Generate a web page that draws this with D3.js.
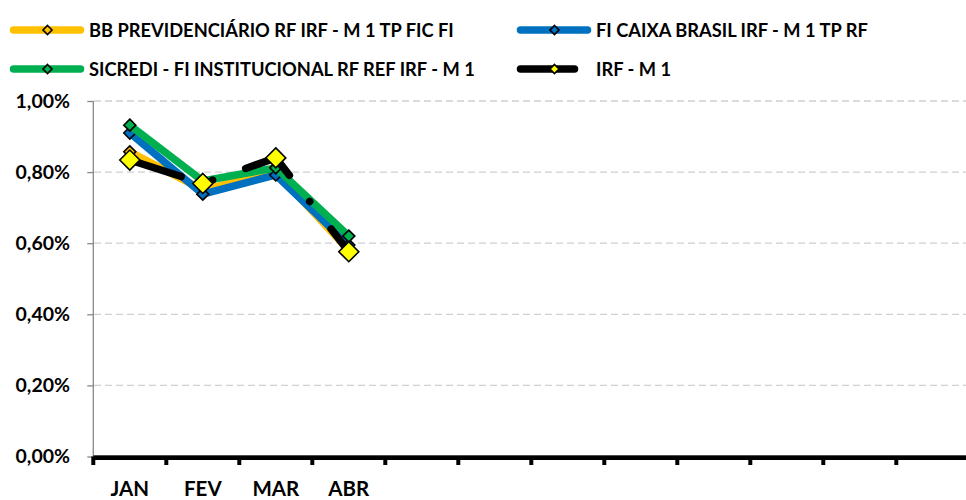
<!DOCTYPE html>
<html><head><meta charset="utf-8">
<script src="https://cdn.jsdelivr.net/npm/d3@7/dist/d3.min.js"></script>
<style>
html,body{margin:0;padding:0;background:#fff;}
svg{display:block;font-family:Lato,"Liberation Sans",sans-serif;font-weight:bold;}
</style></head>
<body><svg id="c" width="966" height="500"></svg>
<script>
// ---- data ----
const months = ["JAN","FEV","MAR","ABR","MAI","JUN","JUL","AGO","SET","OUT","NOV","DEZ"];
const monthLabels = ["JAN","FEV","MAR","ABR","","","","","","","",""];
const yTicks = [0, 0.002, 0.004, 0.006, 0.008, 0.010];
const seriesNames = [
  "BB PREVIDENCIÁRIO RF IRF - M 1 TP FIC FI",
  "FI CAIXA BRASIL IRF - M 1 TP RF",
  "SICREDI - FI INSTITUCIONAL RF REF IRF - M 1",
  "IRF - M 1"
];
const bbValues      = [0.00857, 0.00750, 0.00800, 0.00580];
const caixaValues   = [0.00910, 0.00738, 0.00792, 0.00595];
const sicrediValues = [0.00932, 0.00775, 0.00812, 0.00620];
const irfValues     = [0.00834, 0.00768, 0.00840, 0.00576];

// ---- styles ----
const styles = [
  {line:"#FFC000", fill:"#FFC000", dash:null, msize:12},
  {line:"#0070C0", fill:"#0070C0", dash:null, msize:12},
  {line:"#00B050", fill:"#00B050", dash:null, msize:12},
  {line:"#000000", fill:"#FFFF00", dash:"54,33,0.1,35", msize:20}
];
const allValues = [bbValues, caixaValues, sicrediValues, irfValues];

const svg = d3.select("#c");
const x = d3.scaleBand().domain(months).range([93.3, 969.3]);
const y = d3.scaleLinear().domain([0, 0.01]).range([456.5, 101]);

// gridlines
svg.append("g").selectAll("line").data(yTicks.filter(d=>d>0)).join("line")
  .attr("x1", 94).attr("x2", 966)
  .attr("y1", d=>y(d)).attr("y2", d=>y(d))
  .attr("stroke", "#D0D0D0").attr("stroke-width", 1.3).attr("stroke-dasharray", "7,4");

// y axis
const yAxis = svg.append("g").attr("transform", "translate(93.3,0)")
  .call(d3.axisLeft(y).tickValues(yTicks).tickSize(6).tickPadding(17.3)
    .tickFormat(d => d3.format(".2f")(d*100).replace(".", ",") + "%"));
yAxis.select(".domain").attr("stroke", "#888").attr("stroke-width", 1.3).attr("d", `M0,${y(0.01)}V${y(0)}`);
yAxis.selectAll(".tick line").attr("stroke", "#888").attr("stroke-width", 1.3);
yAxis.selectAll(".tick text").attr("font-size", 19.5).attr("font-family", "Lato").attr("font-weight", "bold").attr("fill", "#000");

// x axis
svg.append("line").attr("x1", 93.3).attr("x2", 966).attr("y1", 455.5).attr("y2", 455.5)
  .attr("stroke", "#999").attr("stroke-width", 1);
const xAxis = svg.append("g").attr("transform", `translate(0,${y(0)+1.2})`)
  .call(d3.axisBottom(x).tickValues(months).tickSize(0).tickPadding(24)
    .tickFormat((d,i)=>monthLabels[i]));
xAxis.select(".domain").attr("stroke", "#000").attr("stroke-width", 4.5).attr("d", `M93.3,0H966`);
xAxis.selectAll(".tick text").attr("font-size", 20.5).attr("font-family", "Lato").attr("font-weight", "bold").attr("fill", "#000");
// boundary tick marks
svg.append("g").selectAll("line").data(months).join("line")
  .attr("x1", d=>x(d)).attr("x2", d=>x(d))
  .attr("y1", y(0)).attr("y2", y(0)+8.5)
  .attr("stroke", "#000").attr("stroke-width", 4);

// series
const line = d3.line().x((d,i)=>x(months[i]) + x.bandwidth()/2).y(d=>y(d));
const diamond = s => `M0,${-s/2}L${s/2},0L0,${s/2}L${-s/2},0Z`;
allValues.forEach((vals, k) => {
  const st = styles[k];
  const p = svg.append("path").datum(vals).attr("d", line)
    .attr("fill", "none").attr("stroke", st.line).attr("stroke-width", 7.5)
    .attr("stroke-linejoin", "round").attr("stroke-linecap", "round");
  if (st.dash) p.attr("stroke-dasharray", st.dash);
  svg.append("g").selectAll("path").data(vals).join("path")
    .attr("transform", (d,i)=>`translate(${x(months[i]) + x.bandwidth()/2},${y(d)})`)
    .attr("d", diamond(st.msize))
    .attr("fill", st.fill).attr("stroke", "#000").attr("stroke-width", 1.6);
});

// legend
const legPos = [[13.5,30],[520.5,30],[13.5,69],[520.5,69]];
seriesNames.forEach((name, k) => {
  const st = styles[k];
  const [lx, ly] = legPos[k];
  const g = svg.append("g").attr("transform", `translate(${lx},${ly})`);
  const l = g.append("line").attr("x1", 0).attr("x2", 67).attr("y1", 0).attr("y2", 0)
    .attr("stroke", st.line).attr("stroke-width", 7.5).attr("stroke-linecap", "round");
  if (st.dash) l.attr("stroke-dasharray", st.dash);
  g.append("path").attr("transform", "translate(34,0)").attr("d", diamond(9))
    .attr("fill", k === 3 ? "#FFFF00" : st.fill).attr("stroke", "#000").attr("stroke-width", 1.6);
  g.append("text").attr("x", 75.5).attr("y", 0).attr("dy", "0.36em")
    .attr("font-size", 18.3).attr("fill", "#000").text(name);
});
</script></body></html>
